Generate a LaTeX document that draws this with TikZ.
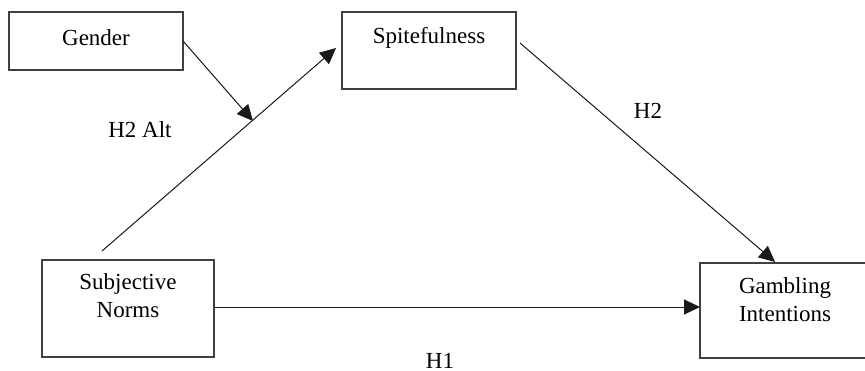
\documentclass[tikz,border=0pt]{standalone}
\usepackage{fontspec}
\setmainfont{Liberation Serif}
\usetikzlibrary{arrows.meta,calc}
\begin{document}
\begin{tikzpicture}[x=0.5pt,y=-0.5pt,
  box/.style={draw=black!75,line width=0.6pt,rectangle,inner sep=0pt,outer sep=0pt},
  txt/.style={inner sep=0pt,outer sep=0pt,anchor=base,align=center,font=\fontsize{11.5}{14}\selectfont},
  conn/.style={draw=black!90,line width=0.5pt,-{Triangle[length=8pt,width=7.5pt]}},
  plain/.style={draw=black!90,line width=0.5pt}]
\useasboundingbox (0,0) rectangle (865,370);
% boxes
\node[box,minimum width=87pt,minimum height=29pt] (gender) at (96,41) {};
\node[box,minimum width=87pt,minimum height=38.5pt] (spite) at (429,50.5) {};
\node[box,minimum width=86pt,minimum height=48.5pt] (subj) at (128,308.5) {};
\node[box,minimum width=85pt,minimum height=47.5pt] (gamb) at (785,310.5) {};
% texts
\node[txt] (genderT) at (96,45) {Gender};
\node[txt] (spiteT) at (429,43) {Spitefulness};
\node[txt] (subjT) at (128,317) {Subjective\\Norms};
\node[txt] (gambT) at (785,321) {Gambling\\Intentions};
\node[txt] (h2alt) at (140,137) {H2 Alt};
\node[txt] (h2) at (648,118) {H2};
\node[txt] (h1) at (440,368) {H1};
% connector end points
\coordinate (altS) at (102,251);
\coordinate (altE) at (336,48);
\coordinate (mod) at (253,121);
\coordinate (h2S) at (520,43);
\coordinate (h2E) at (775,262);
% connectors
\draw[conn] (altS) -- (altE);
\draw[conn] (gender.east) -- (mod);
\draw[conn] (h2S) -- (h2E);
\draw[conn] (subj.east |- 0,307) -- (gamb.west |- 0,307);
\end{tikzpicture}
\end{document}
